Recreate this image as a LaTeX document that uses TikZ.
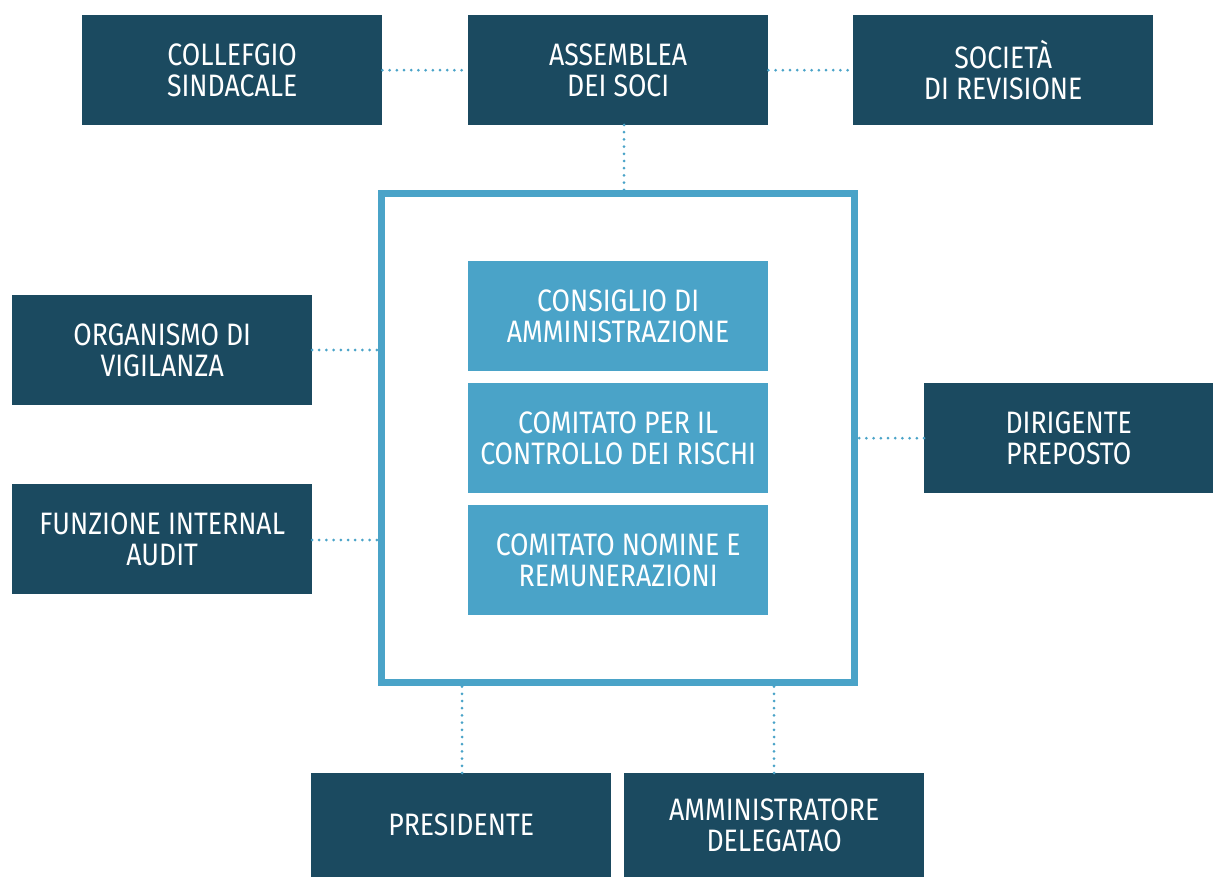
\documentclass[tikz,border=0pt]{standalone}
\usepackage{fontspec}
\setmainfont{Fira Sans}[FakeStretch=0.86]
\definecolor{darkbox}{RGB}{27,74,96}
\definecolor{lightbox}{RGB}{74,163,200}
\begin{document}
\begin{tikzpicture}[x=1pt,y=-1pt,
  base/.style={minimum width=300pt, minimum height=110pt, inner sep=0pt, text=white, align=center, font=\fontsize{31}{31}\selectfont, anchor=north west},
  darkb/.style={base, fill=darkbox},
  lightb/.style={base, fill=lightbox},
  dotline/.style={draw=lightbox, line width=3pt, line cap=round, dash pattern=on 0pt off 7.2pt}]
\useasboundingbox (0,0) rectangle (1213,877);
\node[darkb] (col) at (82,15) {COLLEFGIO\\SINDACALE};
\node[darkb] (ass) at (468,15) {ASSEMBLEA\\DEI SOCI};
\node[darkb] (soc) at (853,15) {SOCIETÀ\\DI REVISIONE};
\node[darkb] (org) at (12,295) {ORGANISMO DI\\VIGILANZA};
\node[darkb] (fun) at (12,484) {FUNZIONE INTERNAL\\AUDIT};
\node[darkb, minimum width=289pt] (dir) at (924,383) {DIRIGENTE\\PREPOSTO};
\node[darkb, minimum height=104pt] (pre) at (311,773) {PRESIDENTE};
\node[darkb, minimum height=104pt] (amm) at (624,773) {AMMINISTRATORE\\DELEGATAO};
\node[draw=lightbox, line width=6.5pt, minimum width=473pt, minimum height=489pt, inner sep=0pt, anchor=north west] (frame) at (378.25,190.25) {};
\node[lightb] (cda) at (468,261) {CONSIGLIO DI\\AMMINISTRAZIONE};
\node[lightb] (ccr) at (468,383) {COMITATO PER IL\\CONTROLLO DEI RISCHI};
\node[lightb] (cnr) at (468,505) {COMITATO NOMINE E\\REMUNERAZIONI};
\coordinate (aB) at (624,125);
\coordinate (oE) at (312,350);
\coordinate (fE) at (312,540);
\coordinate (pT) at (462,773);
\coordinate (mT) at (774,773);
\draw[dotline] (col.east) -- (ass.west);
\draw[dotline] (ass.east) -- (soc.west);
\draw[dotline] (aB) -- (aB |- frame.north);
\draw[dotline] (oE) -- (oE -| frame.west);
\draw[dotline] (fE) -- (fE -| frame.west);
\draw[dotline] (dir.west) -- (dir.west -| frame.east);
\draw[dotline] (pT) -- (pT |- frame.south);
\draw[dotline] (mT) -- (mT |- frame.south);
\end{tikzpicture}
\end{document}
